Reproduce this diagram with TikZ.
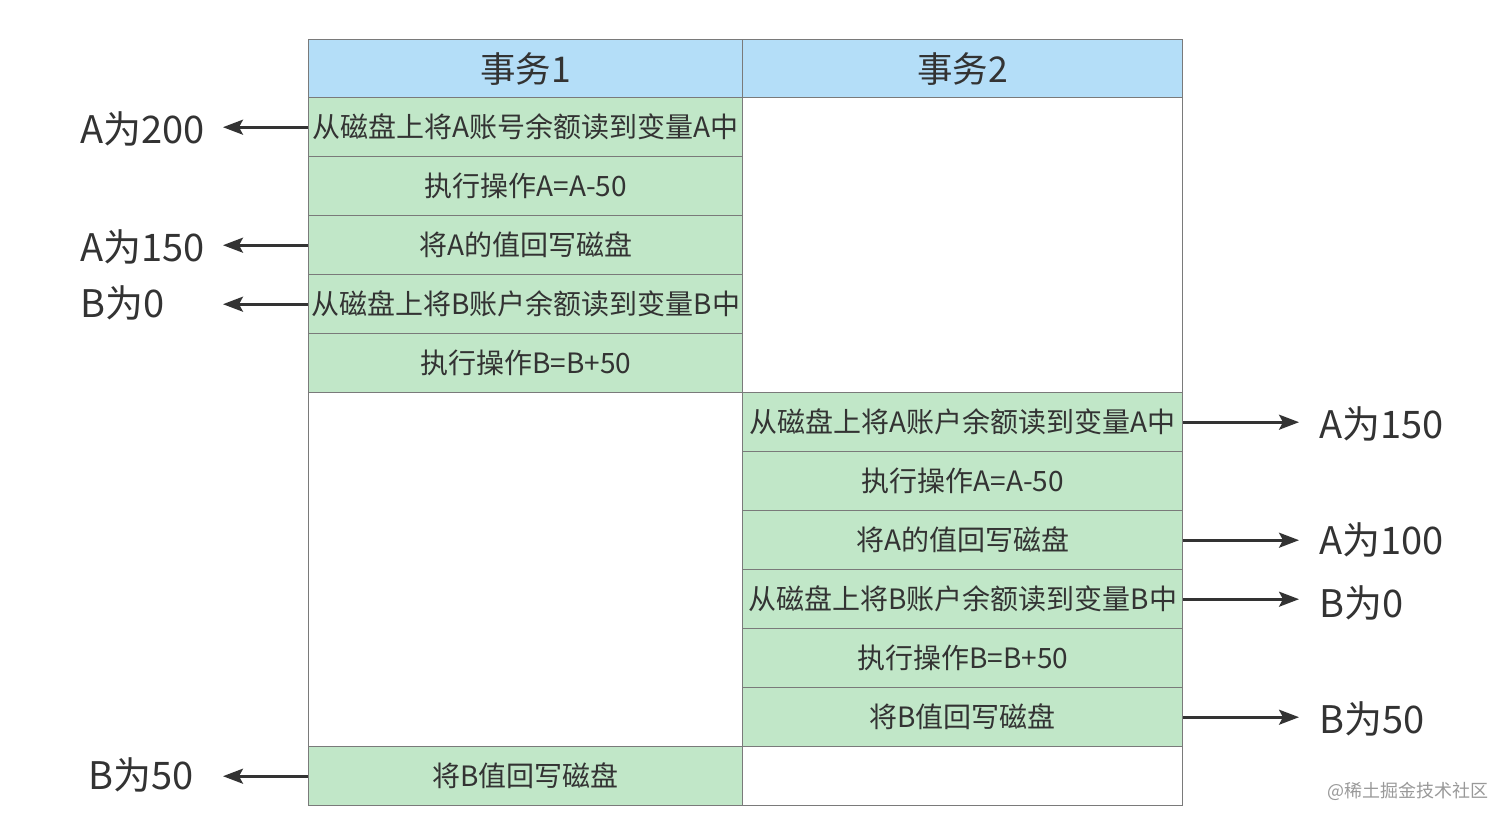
\documentclass[tikz,border=0pt]{standalone}
\usepackage{fontspec}
\setmainfont{Noto Sans CJK SC}
\usetikzlibrary{arrows.meta}
\definecolor{hdr}{HTML}{B4DEF8}
\definecolor{grn}{HTML}{C1E7C8}
\definecolor{bdr}{HTML}{7A7A7A}
\definecolor{txt}{HTML}{333333}
\tikzset{
  cell/.style={draw=bdr, line width=1.4pt, fill=grn, minimum height=59pt, inner sep=0pt, anchor=north west, font=\fontsize{28}{28}\selectfont, text=txt},
  lcell/.style={cell, minimum width=434pt},
  rcell/.style={cell, minimum width=440pt},
  head/.style={fill=hdr, font=\fontsize{35.5}{35.5}\selectfont},
  blank/.style={fill=white},
  lab/.style={font=\fontsize{38}{38}\selectfont, text=txt, inner sep=0pt},
  arr/.style={-{Stealth[length=20pt,width=15pt,inset=4pt]}, line width=2.6pt, draw=txt}
}
\begin{document}
\begin{tikzpicture}[x=1pt,y=-1pt]
\useasboundingbox (0,0) rectangle (1512,825);
% headers
\node[lcell,head] (h1) at (308,39) {事务1};
\node[rcell,head] (h2) at (742,39) {事务2};
% left column
\node[lcell] (l1) at (308,97) {从磁盘上将A账号余额读到变量A中};
\node[lcell] (l2) at (308,156) {执行操作A=A-50};
\node[lcell] (l3) at (308,215) {将A的值回写磁盘};
\node[lcell] (l4) at (308,274) {从磁盘上将B账户余额读到变量B中};
\node[lcell] (l5) at (308,333) {执行操作B=B+50};
\node[lcell,blank,minimum height=354pt] (le) at (308,392) {};
\node[lcell] (l6) at (308,746) {将B值回写磁盘};
% right column
\node[rcell,blank,minimum height=295pt] (re1) at (742,97) {};
\node[rcell] (r1) at (742,392) {从磁盘上将A账户余额读到变量A中};
\node[rcell] (r2) at (742,451) {执行操作A=A-50};
\node[rcell] (r3) at (742,510) {将A的值回写磁盘};
\node[rcell] (r4) at (742,569) {从磁盘上将B账户余额读到变量B中};
\node[rcell] (r5) at (742,628) {执行操作B=B+50};
\node[rcell] (r6) at (742,687) {将B值回写磁盘};
\node[rcell,blank] (re2) at (742,746) {};
% left labels
\node[lab,anchor=west] (a1) at (80,129) {A为200};
\node[lab,anchor=west] (a2) at (80,247) {A为150};
\node[lab,anchor=west] (a3) at (80,303) {B为0};
\node[lab,anchor=west] (a4) at (88,775) {B为50};
\coordinate (tl) at (223,0);
\draw[arr] (l1.west) -- (l1.west -| tl);
\draw[arr] (l3.west) -- (l3.west -| tl);
\draw[arr] (l4.west) -- (l4.west -| tl);
\draw[arr] (l6.west) -- (l6.west -| tl);
% right labels
\node[lab,anchor=west] (b1) at (1319,424) {A为150};
\node[lab,anchor=west] (b2) at (1319,540) {A为100};
\node[lab,anchor=west] (b3) at (1319,603) {B为0};
\node[lab,anchor=west] (b4) at (1319,719) {B为50};
\coordinate (tr) at (1299,0);
\draw[arr] (r1.east) -- (r1.east -| tr);
\draw[arr] (r3.east) -- (r3.east -| tr);
\draw[arr] (r4.east) -- (r4.east -| tr);
\draw[arr] (r6.east) -- (r6.east -| tr);
% watermark
\node[anchor=east, font=\fontsize{18}{18}\selectfont, text=black!40, inner sep=0pt] (wm) at (1489,791) {@稀土掘金技术社区};
\end{tikzpicture}
\end{document}
